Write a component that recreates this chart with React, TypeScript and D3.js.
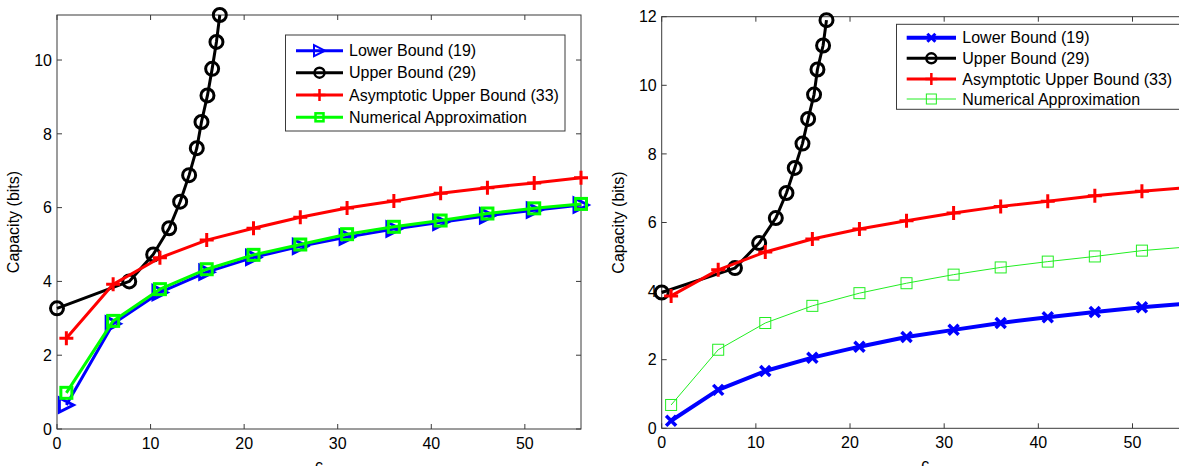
import React from "react";
import * as d3 from "d3";

// ---------- data ----------
const cGrid = [1, 6, 11, 16, 21, 26, 31, 36, 41, 46, 51, 56];

const lowerLeft = [0.65, 2.85, 3.7, 4.25, 4.65, 4.95, 5.2, 5.42, 5.6, 5.78, 5.93, 6.07];
const upperLeftC = [0, 7.72, 10.28, 11.99, 13.16, 14.12, 14.94, 15.44, 16.08, 16.58, 17.04, 17.4];
const upperLeft = [3.27, 4.0, 4.73, 5.44, 6.16, 6.88, 7.61, 8.32, 9.04, 9.76, 10.49, 11.22];
const asymLeft = [2.46, 3.92, 4.64, 5.12, 5.44, 5.74, 5.99, 6.18, 6.39, 6.54, 6.67, 6.81];
const numLeft = [0.98, 2.93, 3.79, 4.33, 4.72, 5.0, 5.28, 5.48, 5.65, 5.84, 5.98, 6.1];

const lowerRight = [0.22, 1.12, 1.67, 2.06, 2.38, 2.66, 2.87, 3.07, 3.24, 3.39, 3.53, 3.64];
const upperRightC = [0, 7.78, 10.35, 12.12, 13.25, 14.13, 14.95, 15.55, 16.18, 16.54, 17.14, 17.5];
const upperRight = [3.96, 4.67, 5.4, 6.13, 6.86, 7.59, 8.3, 9.02, 9.73, 10.46, 11.16, 11.9];
const asymRight = [3.86, 4.62, 5.14, 5.52, 5.81, 6.05, 6.28, 6.47, 6.62, 6.78, 6.91, 7.02];
const numRight = [0.68, 2.29, 3.07, 3.57, 3.94, 4.23, 4.48, 4.69, 4.86, 5.01, 5.18, 5.29];

const xTicks = [0, 10, 20, 30, 40, 50];
const yTicksLeft = [0, 2, 4, 6, 8, 10];
const yTicksRight = [0, 2, 4, 6, 8, 10, 12];

const legendLabels = [
  "Lower Bound (19)",
  "Upper Bound (29)",
  "Asymptotic Upper Bound (33)",
  "Numerical Approximation",
];

const FONT = "'Liberation Sans', Arial, Helvetica, sans-serif";
const AXIS = "#3a3a3a";

type MarkerKind = "tri" | "circle" | "plus" | "square" | "x";

function Marker({ kind, x, y, s, color, sw }: { kind: MarkerKind; x: number; y: number; s: number; color: string; sw: number }) {
  const common = { fill: "none", stroke: color, strokeWidth: sw, strokeLinejoin: "miter" as const };
  if (kind === "circle") return <circle cx={x} cy={y} r={s} {...common} />;
  if (kind === "square") return <rect x={x - s} y={y - s} width={2 * s} height={2 * s} {...common} />;
  if (kind === "tri")
    return <path d={`M${x - s},${y - s}L${x + s},${y}L${x - s},${y + s}Z`} {...common} />;
  if (kind === "plus")
    return <path d={`M${x - s},${y}H${x + s}M${x},${y - s}V${y + s}`} {...common} />;
  return <path d={`M${x - s},${y - s}L${x + s},${y + s}M${x - s},${y + s}L${x + s},${y - s}`} {...common} />;
}

type Series = {
  xs: number[];
  ys: number[];
  color: string;
  lw: number;
  marker: MarkerKind;
  ms: number;
  msw: number;
  lms: number;
  lmsw: number;
};

type PanelProps = {
  x0: number;
  x1: number;
  y0: number;
  y1: number;
  yMax: number;
  yTicks: number[];
  series: Series[];
  legend: { x: number; y: number; w: number; h: number; rows: number[]; lx0: number; lx1: number; tx: number };
};

function Panel({ x0, x1, y0, y1, yMax, yTicks, series, legend }: PanelProps) {
  const xs = d3.scaleLinear().domain([0, 56]).range([x0, x1]);
  const ys = d3.scaleLinear().domain([0, yMax]).range([y1, y0]);
  const line = d3.line<[number, number]>().x((d) => xs(d[0])).y((d) => ys(d[1]));
  const tl = 5;
  return (
    <g fontFamily={FONT}>
      {/* box */}
      <rect x={x0} y={y0} width={x1 - x0} height={y1 - y0} fill="none" stroke={AXIS} strokeWidth={1} />
      {xTicks.map((t) => (
        <g key={"xt" + t}>
          <line x1={xs(t)} x2={xs(t)} y1={y1} y2={y1 - tl} stroke={AXIS} />
          <line x1={xs(t)} x2={xs(t)} y1={y0} y2={y0 + tl} stroke={AXIS} />
          <text x={xs(t)} y={y1 + 20} fontSize={16} textAnchor="middle" fill="#000">
            {t}
          </text>
        </g>
      ))}
      {yTicks.map((t) => (
        <g key={"yt" + t}>
          <line x1={x0} x2={x0 + tl} y1={ys(t)} y2={ys(t)} stroke={AXIS} />
          <line x1={x1} x2={x1 - tl} y1={ys(t)} y2={ys(t)} stroke={AXIS} />
          <text x={x0 - 5} y={ys(t)} dy="0.36em" fontSize={16} textAnchor="end" fill="#000">
            {t}
          </text>
        </g>
      ))}
      <text x={(x0 + x1) / 2} y={y1 + 42} fontSize={16} textAnchor="middle" fill="#000">
        c
      </text>
      <text
        transform={`translate(${x0 - 38},${(y0 + y1) / 2}) rotate(-90)`}
        fontSize={16}
        textAnchor="middle"
        fill="#000"
      >
        Capacity (bits)
      </text>
      {series.map((s, i) => {
        const pts = s.xs.map((xv, j) => [xv, s.ys[j]] as [number, number]);
        return (
          <g key={"s" + i}>
            <path d={line(pts) || ""} fill="none" stroke={s.color} strokeWidth={s.lw} strokeLinejoin="round" />
            {pts.map((p, j) => (
              <Marker key={j} kind={s.marker} x={xs(p[0])} y={ys(p[1])} s={s.ms} color={s.color} sw={s.msw} />
            ))}
          </g>
        );
      })}
      {/* legend */}
      <rect x={legend.x} y={legend.y} width={legend.w} height={legend.h} fill="#fff" stroke={AXIS} strokeWidth={1} />
      {series.map((s, i) => (
        <g key={"l" + i}>
          <line x1={legend.lx0} x2={legend.lx1} y1={legend.rows[i]} y2={legend.rows[i]} stroke={s.color} strokeWidth={s.lw} />
          <Marker kind={s.marker} x={(legend.lx0 + legend.lx1) / 2} y={legend.rows[i]} s={s.lms} color={s.color} sw={s.lmsw} />
          <text x={legend.tx} y={legend.rows[i]} dy="0.36em" fontSize={16} fill="#000">
            {legendLabels[i]}
          </text>
        </g>
      ))}
    </g>
  );
}

export default function App() {
  const leftSeries: Series[] = [
    { xs: cGrid, ys: lowerLeft, color: "#0000ff", lw: 3, marker: "tri", ms: 7, msw: 3, lms: 5.5, lmsw: 2 },
    { xs: upperLeftC, ys: upperLeft, color: "#000000", lw: 3, marker: "circle", ms: 6.5, msw: 3, lms: 5, lmsw: 2.5 },
    { xs: cGrid, ys: asymLeft, color: "#ff0000", lw: 3, marker: "plus", ms: 7, msw: 3, lms: 6, lmsw: 2.5 },
    { xs: cGrid, ys: numLeft, color: "#00ff00", lw: 3, marker: "square", ms: 5.5, msw: 3, lms: 4, lmsw: 2.5 },
  ];
  const rightSeries: Series[] = [
    { xs: cGrid, ys: lowerRight, color: "#0000ff", lw: 4, marker: "x", ms: 5, msw: 3.5, lms: 4, lmsw: 3 },
    { xs: upperRightC, ys: upperRight, color: "#000000", lw: 3, marker: "circle", ms: 6.5, msw: 3, lms: 5, lmsw: 2.5 },
    { xs: cGrid, ys: asymRight, color: "#ff0000", lw: 3, marker: "plus", ms: 7, msw: 3, lms: 6, lmsw: 2.5 },
    { xs: cGrid, ys: numRight, color: "#22ee22", lw: 1, marker: "square", ms: 5.5, msw: 1, lms: 5, lmsw: 1 },
  ];
  return (
    <div style={{ position: "fixed", left: 0, top: 0 }}>
      <svg width={1179} height={466} style={{ display: "block", background: "#fff" }}>
        <Panel
          x0={57}
          x1={581}
          y0={15}
          y1={429}
          yMax={11.22}
          yTicks={yTicksLeft}
          series={leftSeries}
          legend={{ x: 285.5, y: 35, w: 279.5, h: 96, rows: [50.7, 72.7, 95, 117.3], lx0: 296, lx1: 343, tx: 349 }}
        />
        <Panel
          x0={661.7}
          x1={1189}
          y0={16.7}
          y1={428.3}
          yMax={12}
          yTicks={yTicksRight}
          series={rightSeries}
          legend={{ x: 896.5, y: 24.3, w: 300, h: 85, rows: [37.7, 58.3, 79, 99], lx0: 906.7, lx1: 956, tx: 962.3 }}
        />
      </svg>
    </div>
  );
}
